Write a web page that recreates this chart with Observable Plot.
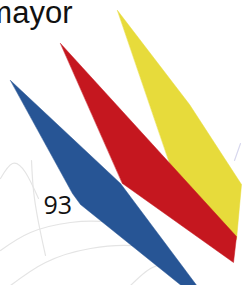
<!DOCTYPE html>
<html>
<head>
<meta charset="utf-8">
<script src="https://cdn.jsdelivr.net/npm/d3@7"></script>
<script src="https://cdn.jsdelivr.net/npm/@observablehq/plot@0.6"></script>
<style>
  html, body { margin: 0; padding: 0; background: #ffffff; }
  #chart svg { display: block; }
</style>
</head>
<body>
<div id="chart"></div>
<script>
// Shape names and their vertex coordinates (image units)
const shapeNames = ["stripeYellow", "stripeRed", "stripeBlue"];
const yellowX = [117, 189, 241, 236, 175];
const yellowY = [10, 104, 184, 239, 180];
const redX = [60, 236, 233, 122];
const redY = [43, 236, 262, 183];
const blueX = [10, 120, 200, 187, 80, 72];
const blueY = [80, 183, 290, 290, 204, 193];
const shapeColors = ["#e7db3b", "#c5171f", "#275595"];

// Faint background arcs
const arcA_X = [0, 30, 70, 110, 150];
const arcA_Y = [250, 232, 222, 222, 232];
const arcB_X = [10, 45, 90, 140, 175];
const arcB_Y = [285, 262, 248, 246, 258];
const arcC_X = [31, 33, 38, 45];
const arcC_Y = [160, 190, 222, 255];
const arcD_X = [0, 12, 25, 38];
const arcD_Y = [178, 163, 172, 198];
const arcE_X = [130, 150, 170];
const arcE_Y = [285, 268, 262];
const arcF_X = [240, 234];
const arcF_Y = [143, 160];

// Texts
const labelTexts = ["mayor", "93"];
const labelX = [72, 43];
const labelY = [22, 213];
const labelSize = [31, 25];

const polys = [];
[[yellowX, yellowY], [redX, redY], [blueX, blueY]].forEach(([xs, ys], i) => {
  xs.forEach((x, j) => polys.push({shape: shapeNames[i], x, y: ys[j]}));
});
const arcs = [];
[[arcA_X, arcA_Y], [arcB_X, arcB_Y], [arcC_X, arcC_Y], [arcD_X, arcD_Y], [arcE_X, arcE_Y]].forEach(([xs, ys], i) => {
  xs.forEach((x, j) => arcs.push({arc: i, x, y: ys[j]}));
});
const lav = arcF_X.map((x, j) => ({x, y: arcF_Y[j]}));
const labels = labelTexts.map((t, i) => ({t, x: labelX[i], y: labelY[i], s: labelSize[i]}));

const chart = Plot.plot({
  width: 245,
  height: 285,
  margin: 0,
  x: {domain: [0, 245], range: [0, 245], axis: null},
  y: {domain: [0, 285], range: [0, 285], axis: null},
  color: {domain: shapeNames, range: shapeColors},
  style: {background: "#ffffff", overflow: "hidden"},
  marks: [
    Plot.line(arcs, {x: "x", y: "y", z: "arc", curve: "natural", stroke: "#e4e4e4", strokeWidth: 1.2}),
    Plot.line(lav, {x: "x", y: "y", stroke: "#d8d8ee", strokeWidth: 1.2}),
    Plot.line(polys, {x: "x", y: "y", z: "shape", fill: "shape", stroke: "shape", strokeWidth: 0.5, curve: "linear-closed"}),
    Plot.text(labels.slice(0, 1), {x: "x", y: "y", text: "t", textAnchor: "end", lineAnchor: "bottom", fontSize: 31, fill: "#111", fontFamily: "Liberation Sans, Arial, sans-serif"}),
    Plot.text(labels.slice(1), {x: "x", y: "y", text: "t", textAnchor: "start", lineAnchor: "bottom", fontSize: 25, fill: "#111", fontFamily: "Open Sans, Liberation Sans, sans-serif"})
  ]
});
document.getElementById("chart").appendChild(chart);
</script>
</body>
</html>
